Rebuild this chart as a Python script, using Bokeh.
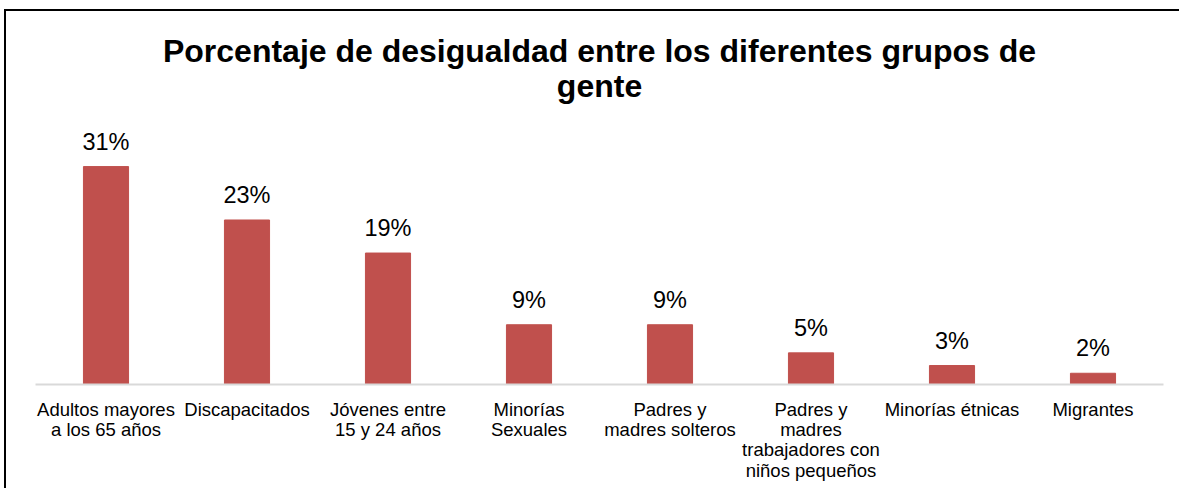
from bokeh.plotting import figure
from bokeh.models import ColumnDataSource, LabelSet, Label, FactorRange, Range1d
from bokeh.core.properties import value
from bokeh.embed import file_html
from bokeh.resources import INLINE

categories = ["Adultos mayores\na los 65 años", "Discapacitados", "Jóvenes entre\n15 y 24 años",
              "Minorías\nSexuales", "Padres y\nmadres solteros",
              "Padres y\nmadres\ntrabajadores con\nniños pequeños", "Minorías étnicas", "Migrantes"]
values = [31.0, 23.4, 18.7, 8.5, 8.5, 4.5, 2.7, 1.6]
labels = ["31%", "23%", "19%", "9%", "9%", "5%", "3%", "2%"]
title_lines = ["Porcentaje de desigualdad entre los diferentes grupos de", "gente"]

FONT = "Liberation Sans"
W, H = 1175, 479
BL, BR, BT, BB = 29, 18, 0, 106
FRAME_H = H - BT - BB
PX_PER_UNIT = 7.03

src = ColumnDataSource(dict(cat=categories, val=values, lab=labels))

p = figure(x_range=FactorRange(*categories, range_padding=0),
           y_range=Range1d(0, FRAME_H / PX_PER_UNIT),
           width=W, height=H, output_backend="svg", toolbar_location=None,
           min_border_left=BL, min_border_right=BR, min_border_top=BT, min_border_bottom=BB,
           y_axis_location=None, title=None)
p.margin = (9, 0, 0, 4)
p.styles = {"border-top": "2px solid black", "border-left": "2px solid black"}
p.outline_line_color = None
p.xgrid.visible = False
p.ygrid.visible = False

p.vbar(x="cat", top="val", width=0.32, color="#C0504D", source=src)

p.add_layout(LabelSet(x="cat", y="val", text="lab", source=src, y_offset=17,
                      text_align="center", text_baseline="alphabetic",
                      text_font=value(FONT), text_font_size="23.5px", text_color="black"))

p.xaxis.axis_line_color = "#D9D9D9"
p.xaxis.axis_line_width = 2
p.xaxis.major_tick_line_color = None
p.xaxis.minor_tick_line_color = None
p.xaxis.major_tick_out = 0
p.xaxis.major_tick_in = 0
p.xaxis.major_label_standoff = 14
p.xaxis.major_label_text_font = FONT
p.xaxis.major_label_text_font_size = "18.5px"
p.xaxis.major_label_text_line_height = 0.97
p.xaxis.major_label_text_color = "black"

fw = W - BL - BR
for txt, yb in zip(title_lines, [334, 299]):
    p.add_layout(Label(x=fw / 2, y=yb, x_units="screen", y_units="screen", text=txt,
                       text_align="center", text_baseline="alphabetic",
                       text_font=FONT, text_font_size="32px", text_font_style="bold",
                       text_color="black"))

open("out.html", "w").write(file_html(p, INLINE))
